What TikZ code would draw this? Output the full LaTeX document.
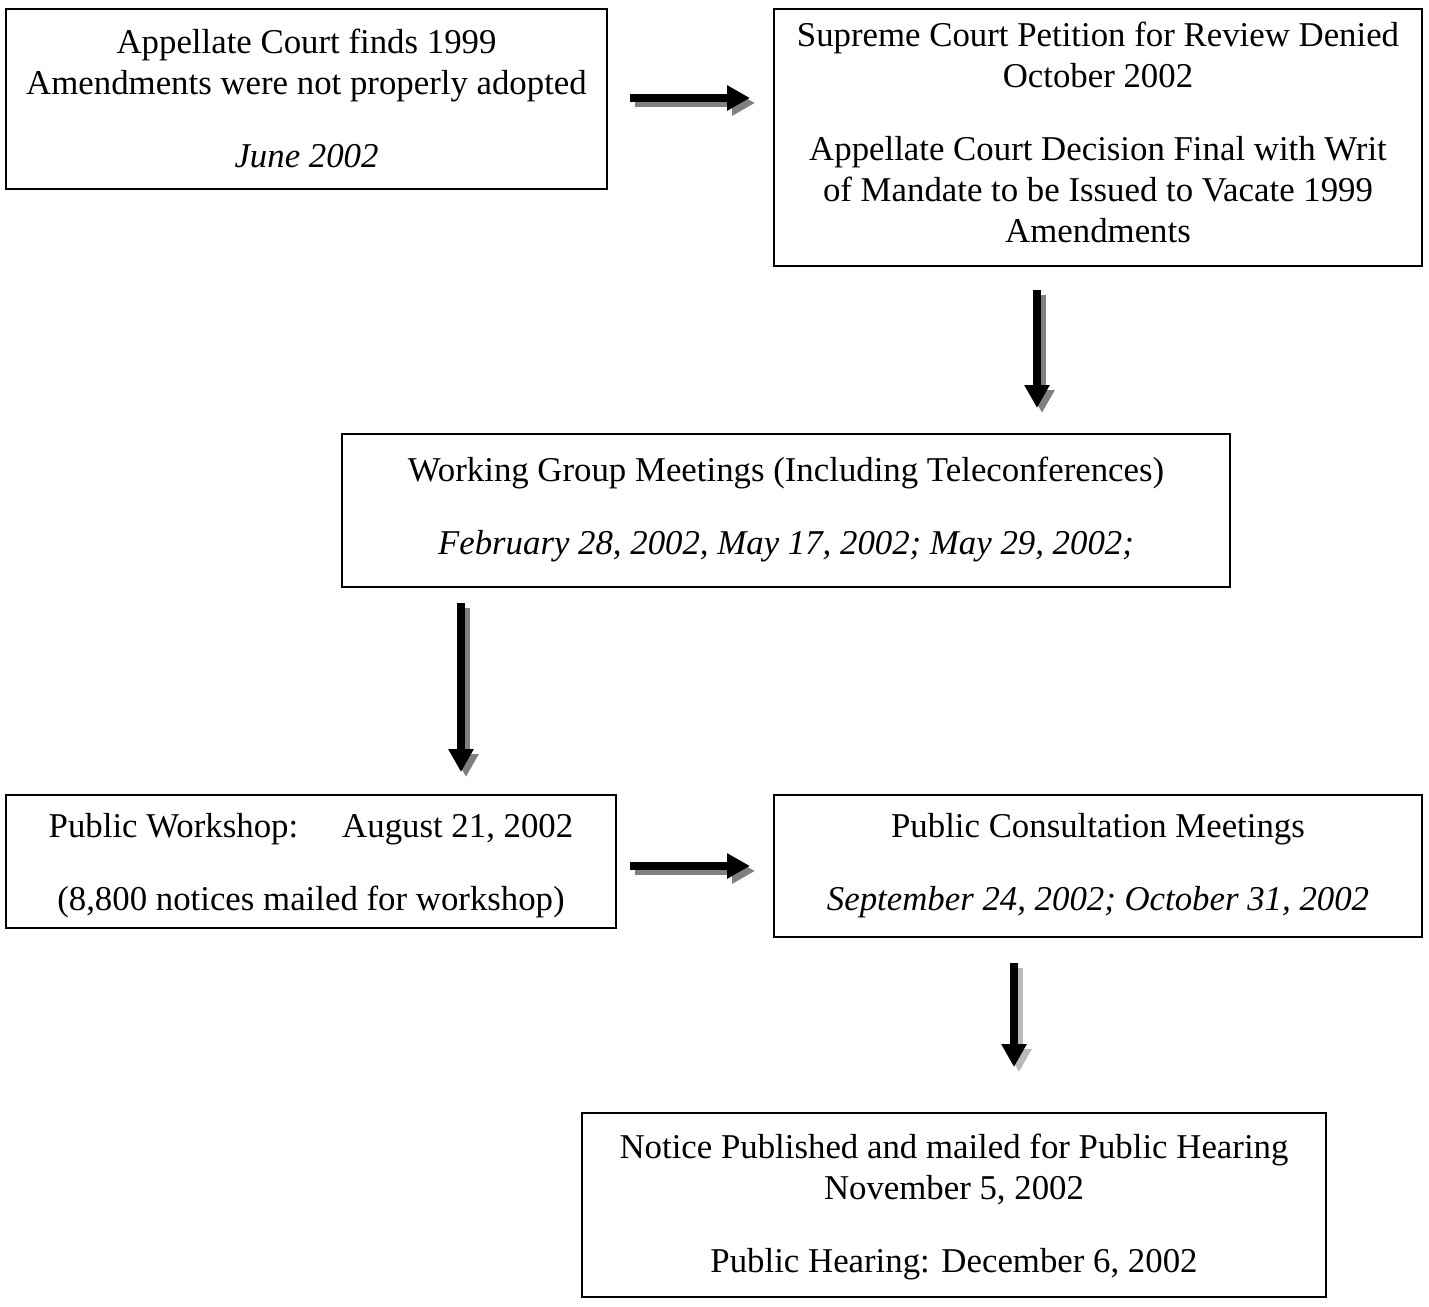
\documentclass[tikz,border=0pt]{standalone}
\usepackage{fontspec}
\setmainfont{Liberation Serif}
\usetikzlibrary{arrows.meta}
\begin{document}
\begin{tikzpicture}[x=0.5pt,y=-0.5pt,
  frame/.style={draw=black, line width=1pt, inner sep=0pt},
  boxtext/.style={inner sep=0pt, align=center, font=\fontsize{17.4}{20.5}\selectfont},
  blockarrow/.style={draw=black, line width=4pt, -{Triangle[width=12pt,length=11.5pt]}},
  arrowshadow/.style={blockarrow, draw=gray, fill=gray, transform canvas={shift={(2.5pt,-2.5pt)}}},
  lightshadow/.style={arrowshadow, draw=gray!55, fill=gray!55},
]
\useasboundingbox (0,0) rectangle (1429,1306);

\node[frame, minimum width=300.5pt, minimum height=90pt] (b1) at (306.5,99) {};
\node[boxtext] (b1t) at (306.5,98)
  {Appellate Court finds 1999\\Amendments were not properly adopted\\[16pt]\textit{June 2002}};

\node[frame, minimum width=324pt, minimum height=128.5pt] (b2) at (1098,137.5) {};
\node[boxtext] (b2t) at (1098,132)
  {Supreme Court Petition for Review Denied\\October 2002\\[16pt]Appellate Court Decision Final with Writ\\of Mandate to be Issued to Vacate 1999\\Amendments};

\node[frame, minimum width=444pt, minimum height=76.5pt] (b3) at (786,510.5) {};
\node[boxtext] (b3t) at (786,509)
  {Working Group Meetings (Including Teleconferences)\\[16pt]\textit{February 28, 2002, May 17, 2002; May 29, 2002;}};

\node[frame, minimum width=305pt, minimum height=66.5pt] (b4) at (311,861.5) {};
\node[boxtext] (b4t) at (311,866)
  {Public Workshop:\hspace{22pt}August 21, 2002\\[16pt](8,800 notices mailed for workshop)};

\node[frame, minimum width=324pt, minimum height=71pt] (b5) at (1098,866) {};
\node[boxtext] (b5t) at (1098,866)
  {Public Consultation Meetings\\[16pt]\textit{September 24, 2002; October 31, 2002}};

\node[frame, minimum width=372pt, minimum height=92pt] (b6) at (954,1205) {};
\node[boxtext] (b6t) at (954,1207)
  {Notice Published and mailed for Public Hearing\\November 5, 2002\\[16pt]Public Hearing: December 6, 2002};

\coordinate (a1s) at (630,98);   \coordinate (a1e) at (750,98);
\coordinate (a2s) at (1037,290); \coordinate (a2e) at (1037,408);
\coordinate (a3s) at (461,603);  \coordinate (a3e) at (461,772);
\coordinate (a4s) at (630,866);  \coordinate (a4e) at (750,866);
\coordinate (a5s) at (1014,963); \coordinate (a5e) at (1014,1067);

\draw[arrowshadow] (a1s) -- (a1e);
\draw[blockarrow] (a1s) -- (a1e);
\draw[arrowshadow] (a2s) -- (a2e);
\draw[blockarrow] (a2s) -- (a2e);
\draw[arrowshadow] (a3s) -- (a3e);
\draw[blockarrow] (a3s) -- (a3e);
\draw[arrowshadow] (a4s) -- (a4e);
\draw[blockarrow] (a4s) -- (a4e);
\draw[lightshadow] (a5s) -- (a5e);
\draw[blockarrow] (a5s) -- (a5e);
\end{tikzpicture}
\end{document}
